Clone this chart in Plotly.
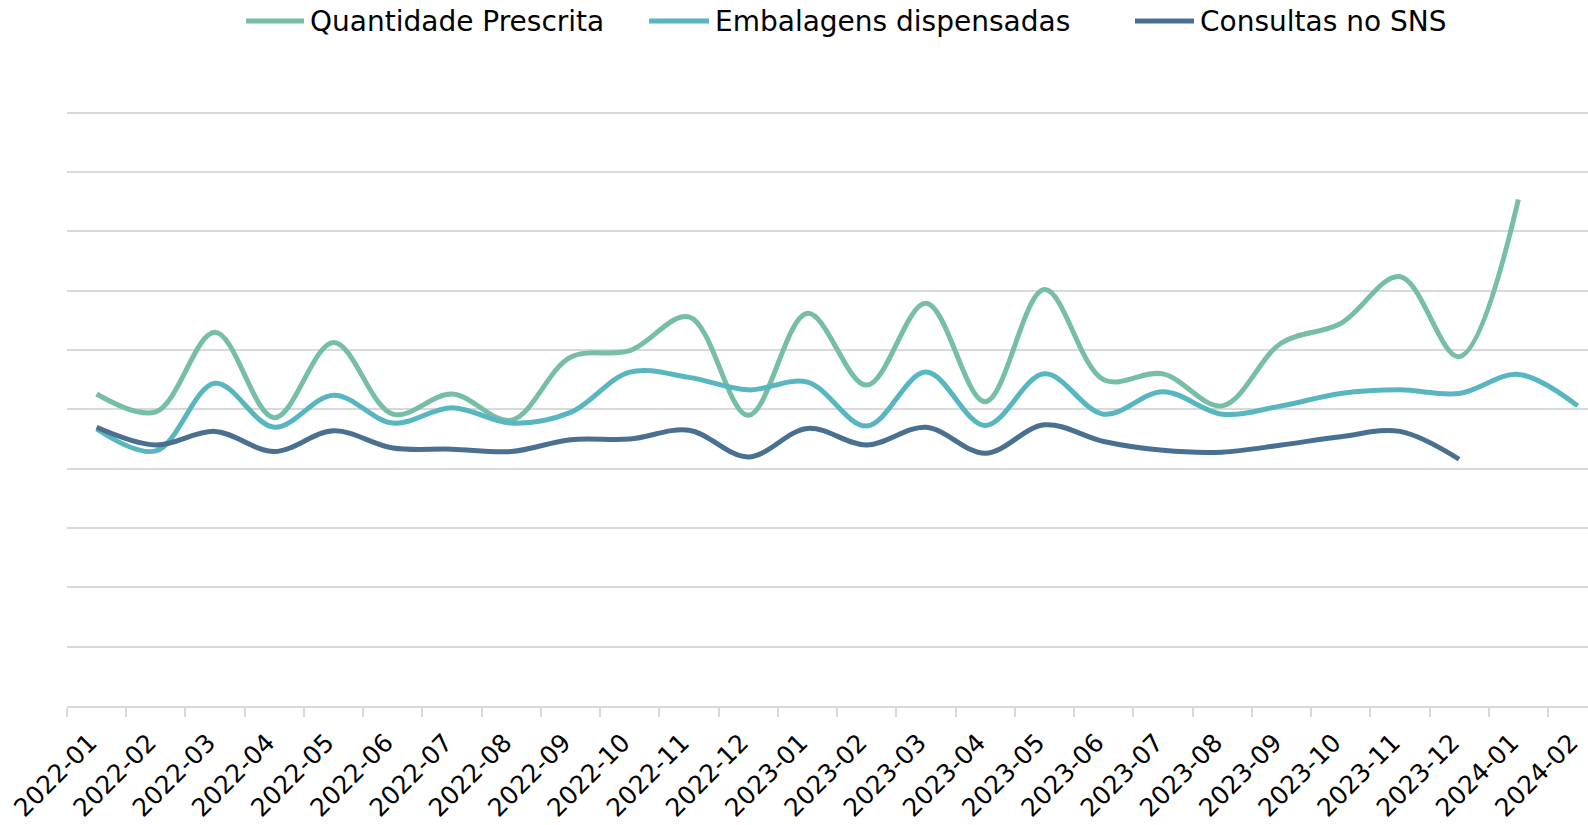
import plotly.graph_objects as go

months = ["2022-01", "2022-02", "2022-03", "2022-04", "2022-05", "2022-06", "2022-07",
          "2022-08", "2022-09", "2022-10", "2022-11", "2022-12", "2023-01", "2023-02",
          "2023-03", "2023-04", "2023-05", "2023-06", "2023-07", "2023-08", "2023-09",
          "2023-10", "2023-11", "2023-12", "2024-01", "2024-02"]

quantidade_prescrita = [52.6, 49.6, 63.0, 48.6, 61.3, 49.2, 52.6, 48.2, 58.8, 59.9, 65.6, 49.0, 66.2,
                        54.1, 67.9, 51.3, 70.2, 55.0, 56.0, 50.6, 61.2, 64.5, 72.4, 58.9, 85.4, None]
embalagens_dispensadas = [46.7, 43.0, 54.4, 47.0, 52.4, 47.7, 50.3, 47.7, 49.5, 56.3, 55.4, 53.3, 54.6,
                          47.2, 56.3, 47.3, 56.0, 49.2, 53.0, 49.2, 50.6, 52.7, 53.3, 52.7, 55.9, 50.6]
consultas_sns = [47.0, 44.0, 46.3, 42.9, 46.4, 43.5, 43.3, 42.9, 44.9, 45.0, 46.5, 42.0, 46.8,
                 44.0, 47.0, 42.6, 47.4, 44.6, 43.1, 42.8, 44.0, 45.4, 46.3, 41.6, None, None]

series_names = ["Quantidade Prescrita", "Embalagens dispensadas", "Consultas no SNS"]
series_values = [quantidade_prescrita, embalagens_dispensadas, consultas_sns]
colors = ["#76BEA6", "#57B6C0", "#4A7091"]

W, H = 1588, 825
ML = 67
MR = 0
MB = 825 - 706
Y_TOP = 102
plot_h_target = (706 - 113) * Y_TOP / 100.0
MT = int(round(H - MB - plot_h_target))
plot_w = W - ML - MR
plot_h = H - MT - MB
FONT = "DejaVu Sans"

fig = go.Figure()
for name, vals, col in zip(series_names, series_values, colors):
    fig.add_trace(go.Scatter(
        x=months, y=vals, name=name, mode="lines",
        line=dict(color=col, width=5, shape="spline", smoothing=1.0),
        connectgaps=False, showlegend=False,
    ))

# custom legend (longer line symbols like the original); positions in pixels
legend_items = [(246, 304, 308), (649, 709, 713), (1135, 1194, 1198)]
leg_y_px = 21
for (x0, x1, xt), name, col in zip(legend_items, series_names, colors):
    py = (H - MB - leg_y_px) / plot_h
    fig.add_shape(type="line", xref="paper", yref="paper",
                  x0=(x0 - ML) / plot_w, x1=(x1 - ML) / plot_w, y0=py, y1=py,
                  line=dict(color=col, width=5))
    fig.add_annotation(xref="paper", yref="paper", x=(xt - ML) / plot_w, y=py,
                       text=name, showarrow=False, xanchor="left", yanchor="middle",
                       font=dict(family=FONT, size=28, color="#000000"))

px_per_cat = 59.24
xmax = -0.5 + plot_w / px_per_cat

fig.update_xaxes(
    type="category", range=[-0.5, xmax], automargin=False,
    showgrid=False, showline=True, linecolor="#d9d9d9", linewidth=2,
    ticks="outside", tickson="boundaries", ticklen=9, tickcolor="#d9d9d9", tickwidth=2,
    tickangle=-45, tickfont=dict(family=FONT, size=25, color="#000000"),
    ticklabelshift=-7, ticklabelstandoff=10,
)
fig.update_yaxes(
    range=[0, Y_TOP], tick0=0, dtick=10, showgrid=True, gridcolor="#d9d9d9", gridwidth=2,
    zeroline=False, showticklabels=False, showline=False, automargin=False,
)
fig.update_layout(
    width=W, height=H,
    margin=dict(l=ML, r=MR, t=MT, b=MB, autoexpand=False),
    paper_bgcolor="white", plot_bgcolor="white",
    font=dict(family=FONT, size=24, color="#000000"),
)
fig.write_html(
    "out.html",
    config={"displayModeBar": False},
    post_script="document.body.style.margin='0px';document.body.style.overflow='hidden';",
)
